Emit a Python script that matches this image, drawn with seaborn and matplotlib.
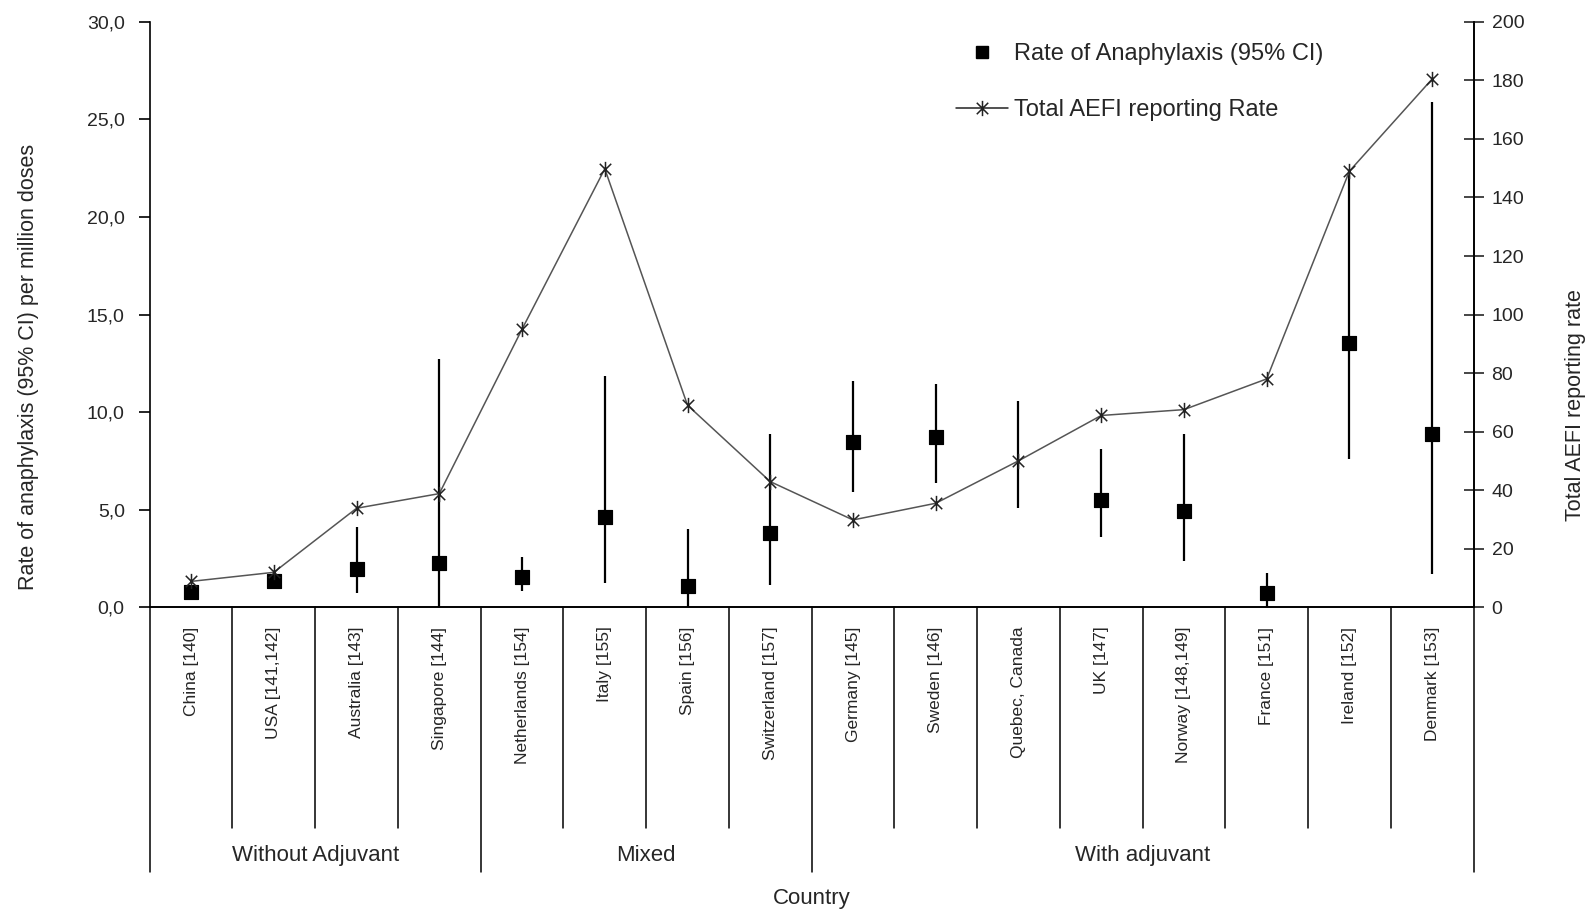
import matplotlib
matplotlib.use("Agg")
import matplotlib.pyplot as plt
from matplotlib.path import Path
from matplotlib.lines import Line2D
import numpy as np
import pandas as pd
import seaborn as sns

countries = ["China [140]", "USA [141,142]", "Australia [143]", "Singapore [144]",
             "Netherlands [154]", "Italy [155]", "Spain [156]", "Switzerland [157]",
             "Germany [145]", "Sweden [146]", "Quebec, Canada", "UK [147]",
             "Norway [148,149]", "France [151]", "Ireland [152]", "Denmark [153]"]
groups = ["Without Adjuvant", "Mixed", "With adjuvant"]
group_sizes = [4, 4, 8]

# anaphylaxis rate per million doses with 95% CI (Quebec has no point estimate)
rate = [0.8, 1.35, 1.95, 2.25, 1.55, 4.6, 1.1, 3.8,
        8.45, 8.7, np.nan, 5.5, 4.95, 0.7, 13.55, 8.9]
ci_low = [np.nan, np.nan, 0.75, 0.0, 0.85, 1.25, 0.0, 1.15,
          5.9, 6.35, 5.1, 3.6, 2.35, 0.0, 7.6, 1.7]
ci_high = [np.nan, np.nan, 4.1, 12.7, 2.55, 11.85, 4.0, 8.9,
           11.6, 11.45, 10.55, 8.1, 8.9, 1.75, 22.4, 25.9]
# total AEFI reporting rate
aefi = [8.8, 11.9, 33.8, 38.8, 95.0, 149.8, 69.0, 42.9,
        29.8, 35.5, 50.0, 65.5, 67.5, 78.0, 149.0, 180.5]

df = pd.DataFrame({"country": countries, "pos": np.arange(len(countries)),
                   "rate": rate, "lo": ci_low, "hi": ci_high, "aefi": aefi})

sns.set_style("ticks")
plt.rcParams["font.family"] = ["Liberation Sans", "DejaVu Sans"]

fig = plt.figure(figsize=(15.93, 9.13), dpi=100)
ax = fig.add_axes([0.094, 0.335, 0.831, 0.641])
ax2 = ax.twinx()

# asterisk-like marker: vertical bar + X
star = Path([(0, -1), (0, 1), (-0.75, -0.75), (0.75, 0.75), (-0.75, 0.75), (0.75, -0.75)],
            [Path.MOVETO, Path.LINETO, Path.MOVETO, Path.LINETO, Path.MOVETO, Path.LINETO])

# CI bars
ci = df.dropna(subset=["lo"])
ax.vlines(ci["pos"], ci["lo"], ci["hi"], color="black", lw=1.6, zorder=3)
sns.scatterplot(data=df.dropna(subset=["rate"]), x="pos", y="rate", marker="s", s=110,
                color="black", edgecolor="black", ax=ax, zorder=4, legend=False)
sns.lineplot(data=df, x="pos", y="aefi", ax=ax2, color="#555555", lw=1.1, sort=False,
             marker=star, markersize=11, markeredgecolor="#222222", markeredgewidth=1.1,
             zorder=5)

ax.set_xlim(-0.5, len(countries) - 0.5)
ax.set_ylim(0, 30)
ax2.set_ylim(0, 200)
ax.set_yticks(np.arange(0, 31, 5))
ax.set_yticklabels([f"{v:.1f}".replace(".", ",") for v in np.arange(0, 31, 5)])
ax2.set_yticks(np.arange(0, 201, 20))
ax.tick_params(axis="y", labelsize=14, length=8, width=1.2, pad=10, color="black")
ax2.tick_params(axis="y", labelsize=14, length=14, width=1.2, direction="inout", pad=6)
ax.set_xticks(df["pos"])
ax.set_xticklabels(countries, rotation=90, fontsize=12.5)
ax.tick_params(axis="x", length=0, pad=14)
ax.set_xlabel("")
ax2.set_xlabel("")

for a in (ax, ax2):
    a.spines["top"].set_visible(False)
    for s in ("left", "right", "bottom"):
        a.spines[s].set_linewidth(1.2)
        a.spines[s].set_color("black")
ax2.spines["left"].set_visible(False)

ax.set_ylabel("Rate of anaphylaxis (95% CI) per million doses", fontsize=15.5)
ax2.set_ylabel("Total AEFI reporting rate", fontsize=15.5)
ax.yaxis.set_label_coords(-0.084, 0.41)
ax2.yaxis.set_label_coords(1.069, 0.345)

# category separators below the axis
tr = ax.get_xaxis_transform()
bounds = np.cumsum([0] + group_sizes) - 0.5
for i in range(len(countries) + 1):
    x = i - 0.5
    yend = -0.453 if x in bounds else -0.378
    ax.plot([x, x], [0, yend], transform=tr, color="black", lw=1.1, clip_on=False)

start = -0.5
for g, n in zip(groups, group_sizes):
    ax.text(start + n / 2, -0.424, g, transform=tr, ha="center", va="center", fontsize=16)
    start += n
ax.text(0.5, -0.497, "Country", transform=ax.transAxes, ha="center", va="center", fontsize=16)

handles = [Line2D([], [], marker="s", color="black", ls="none", markersize=9),
           Line2D([], [], marker=star, color="#222222", lw=1.1, markersize=11, markeredgewidth=1.1)]
ax2.legend(handles, ["Rate of Anaphylaxis (95% CI)", "Total AEFI reporting Rate"],
           loc="upper left", bbox_to_anchor=(0.593, 1.0), frameon=False, fontsize=17,
           handlelength=2.2, handletextpad=0.25, labelspacing=1.45)

fig.savefig("out.png", dpi=100)
